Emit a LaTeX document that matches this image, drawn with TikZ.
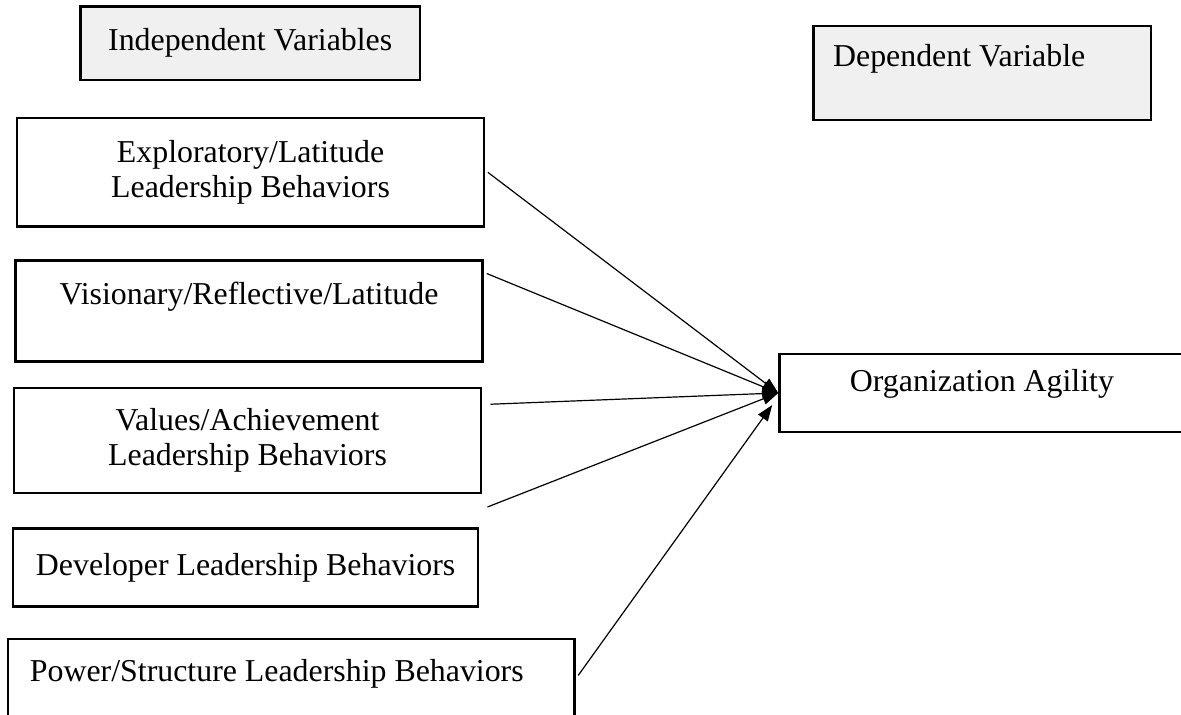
\documentclass[tikz,border=0pt]{standalone}
\usepackage{fontspec}
\setmainfont{Liberation Serif}
\usetikzlibrary{arrows.meta, calc}
\definecolor{headgray}{HTML}{F0F0F0}
\tikzset{
  varbox/.style={draw, line width=0.9pt, align=center, anchor=north west,
    font=\fontsize{12pt}{13.2pt}\selectfont},
  headbox/.style={varbox, fill=headgray},
  link/.style={line width=0.45pt, -{Triangle[length=6pt, width=4.4pt]}}
}

\begin{document}
\begin{tikzpicture}
\useasboundingbox (0,0) rectangle (15.63,-9.45);
% column headings
\node[headbox, minimum width=4.49cm, minimum height=0.97cm] (indep) at (1.05,-0.07) {Independent Variables};
\node[headbox, minimum width=4.47cm, minimum height=1.24cm, inner xsep=0.26cm, text width=3.95cm, align=flush left] (dep) at (10.75,-0.33) {Dependent Variable\\ \mbox{}};
% the five behaviour boxes
\node[varbox, minimum width=6.18cm, minimum height=1.43cm] (expl) at (0.21,-1.55) {Exploratory/Latitude\\ Leadership Behaviors};
\node[varbox, minimum width=6.18cm, minimum height=1.34cm] (vis) at (0.19,-3.43) {Visionary/Reflective/Latitude\\ \mbox{}};
\node[varbox, minimum width=6.18cm, minimum height=1.39cm] (val) at (0.17,-5.12) {Values/Achievement\\ Leadership Behaviors};
\node[varbox, minimum width=6.15cm, minimum height=1.03cm] (dev) at (0.16,-6.98) {Developer Leadership Behaviors};
\node[varbox, minimum width=7.50cm, minimum height=1.31cm, inner xsep=0.29cm, text width=6.92cm, align=flush left] (pow) at (0.09,-8.44) {Power/Structure Leadership Behaviors\\ \mbox{}};
% outcome
\node[varbox, minimum width=5.36cm, minimum height=1.03cm] (org) at (10.30,-4.67) {Organization Agility\\[-4pt] \mbox{}};
% arrows into the outcome
\draw[link] ([xshift=1pt]expl.east) -- (org.west);
\draw[link] ($(vis.north east)+(0.04,-0.19)$) -- (org.west);
\draw[link] ($(val.north east)+(0.11,-0.23)$) -- (org.west);
\draw[link] ($(dev.north east)+(0.11,0.27)$) -- (org.west);
\draw[link] ($(pow.north east)+(0.03,-0.5)$) -- ($(org.west)+(-0.08,-0.16)$);
\end{tikzpicture}
\end{document}
